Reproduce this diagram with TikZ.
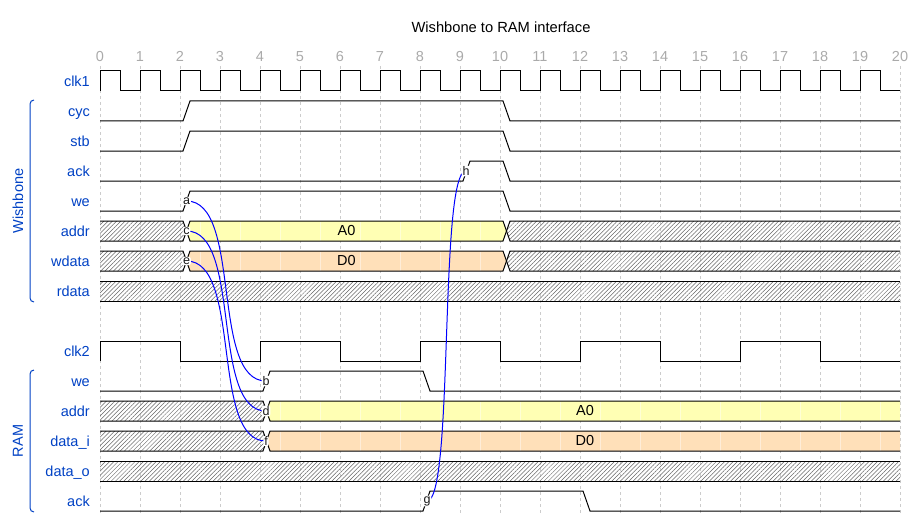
\documentclass[tikz,border=0pt]{standalone}
\usepackage{fontspec}
\setmainfont{Liberation Sans}
\usetikzlibrary{patterns.meta}
\definecolor{wdblue}{HTML}{0041C4}
\definecolor{wdyellow}{HTML}{FFFFB4}
\definecolor{wdorange}{HTML}{FFE0B9}
\definecolor{gridgray}{HTML}{CCCCCC}
\definecolor{tickgray}{HTML}{AAAAAA}
\definecolor{edgeblue}{HTML}{0000FF}
\begin{document}
\begin{tikzpicture}[x=1pt,y=-1pt,
  wave/.style={line width=1pt, black, line join=miter},
  hatch/.style={pattern={Lines[angle=45,distance=3pt,line width=0.5pt]}, pattern color=black!60},
  seam/.style={white, opacity=0.45, line width=0.8pt},
  siglabel/.style={anchor=base east, text=wdblue, font=\fontsize{14.5}{17}\selectfont, inner sep=0pt},
  ticklabel/.style={anchor=base, text=tickgray, font=\fontsize{14.5}{17}\selectfont, inner sep=0pt},
  buslabel/.style={anchor=center, text=black, font=\fontsize{14.5}{17}\selectfont, inner sep=0pt},
  gridline/.style={gridgray, line width=0.6pt, dash pattern=on 3pt off 3pt},
  nodelabel/.style={fill=white, rounded corners=2pt, inner sep=0.8pt, font=\fontsize{12.5}{13}\selectfont, text=black!90},
  edgecurve/.style={edgeblue, line width=1pt},
  bracket/.style={wdblue, line width=1pt, rounded corners=4pt},
  grouplabel/.style={text=wdblue, font=\fontsize{14.5}{17}\selectfont, rotate=90, inner sep=0pt}
]
\useasboundingbox (0,0) rectangle (920,516);

% title and ticks
\node[anchor=base, font=\fontsize{14.7}{17}\selectfont, inner sep=0pt] (title) at (501,33) {Wishbone to RAM interface};
\foreach \i in {0,...,20} {
  \draw[gridline] ({100+40*\i},66) -- ({100+40*\i},516);
  \node[ticklabel] (t\i) at ({100+40*\i},62) {\i};
}

% signal labels
\node[siglabel] (lclk1) at (90,86.7) {clk1};
\node[siglabel] (lcyc) at (90,116.7) {cyc};
\node[siglabel] (lstb) at (90,146.7) {stb};
\node[siglabel] (lack) at (90,176.7) {ack};
\node[siglabel] (lwe) at (90,206.7) {we};
\node[siglabel] (laddr) at (90,236.7) {addr};
\node[siglabel] (lwdata) at (90,266.7) {wdata};
\node[siglabel] (lrdata) at (90,296.7) {rdata};
\node[siglabel] (lclk2) at (90,356.7) {clk2};
\node[siglabel] (lrwe) at (90,386.7) {we};
\node[siglabel] (lraddr) at (90,416.7) {addr};
\node[siglabel] (ldatai) at (90,446.7) {data\_i};
\node[siglabel] (ldatao) at (90,476.7) {data\_o};
\node[siglabel] (lrack) at (90,506.7) {ack};

% groups
\draw[bracket] (34,100) -- (30,100) -- (30,302) -- (34,302);
\node[grouplabel] (gwb) at (18,201) {Wishbone};
\draw[bracket] (34,370) -- (30,370) -- (30,512) -- (34,512);
\node[grouplabel] (gram) at (18,441) {RAM};

% clk1
\draw[wave] (100,91) \foreach \i in {0,...,19} { -- ({100+40*\i},71) -- ({120+40*\i},71) -- ({120+40*\i},91) -- ({140+40*\i},91) };
% cyc, stb, ack, we
\draw[wave] (100,121) -- (183,121) -- (190,101) -- (503,101) -- (510,121) -- (900,121);
\draw[wave] (100,151) -- (183,151) -- (190,131) -- (503,131) -- (510,151) -- (900,151);
\draw[wave] (100,181) -- (463,181) -- (470,161) -- (503,161) -- (510,181) -- (900,181);
\draw[wave] (100,211) -- (183,211) -- (190,191) -- (503,191) -- (510,211) -- (900,211);

% addr (wishbone)
\fill[hatch] (100,221) -- (183,221) -- (186.5,231) -- (183,241) -- (100,241) -- cycle;
\fill[wdyellow] (186.5,231) -- (190,221) -- (503,221) -- (506.5,231) -- (503,241) -- (190,241) -- cycle;
\fill[hatch] (506.5,231) -- (510,221) -- (900,221) -- (900,241) -- (510,241) -- cycle;
\foreach \x in {200,240,...,480} \draw[seam] (\x,221.5) -- (\x,240.5);
\draw[wave] (100,221) -- (183,221) -- (190,241) -- (503,241) -- (510,221) -- (900,221);
\draw[wave] (100,241) -- (183,241) -- (190,221) -- (503,221) -- (510,241) -- (900,241);
\node[buslabel] (wba0) at (346.5,231) {A0};

% wdata
\fill[hatch] (100,251) -- (183,251) -- (186.5,261) -- (183,271) -- (100,271) -- cycle;
\fill[wdorange] (186.5,261) -- (190,251) -- (503,251) -- (506.5,261) -- (503,271) -- (190,271) -- cycle;
\fill[hatch] (506.5,261) -- (510,251) -- (900,251) -- (900,271) -- (510,271) -- cycle;
\foreach \x in {200,240,...,480} \draw[seam] (\x,251.5) -- (\x,270.5);
\draw[wave] (100,251) -- (183,251) -- (190,271) -- (503,271) -- (510,251) -- (900,251);
\draw[wave] (100,271) -- (183,271) -- (190,251) -- (503,251) -- (510,271) -- (900,271);
\node[buslabel] (wbd0) at (346.5,261) {D0};

% rdata
\fill[hatch] (100,281) rectangle (900,301);
\draw[wave] (100,281) -- (900,281) (100,301) -- (900,301);

% clk2
\draw[wave] (100,361) \foreach \i in {0,...,4} { -- ({100+160*\i},341) -- ({180+160*\i},341) -- ({180+160*\i},361) -- ({260+160*\i},361) };

% RAM we
\draw[wave] (100,391) -- (263,391) -- (270,371) -- (423,371) -- (430,391) -- (900,391);

% RAM addr
\fill[hatch] (100,401) -- (263,401) -- (266.5,411) -- (263,421) -- (100,421) -- cycle;
\fill[wdyellow] (266.5,411) -- (270,401) -- (900,401) -- (900,421) -- (270,421) -- cycle;
\foreach \x in {280,320,...,880} \draw[seam] (\x,401.5) -- (\x,420.5);
\draw[wave] (100,401) -- (263,401) -- (270,421) -- (900,421);
\draw[wave] (100,421) -- (263,421) -- (270,401) -- (900,401);
\node[buslabel] (rama0) at (585,411) {A0};

% RAM data_i
\fill[hatch] (100,431) -- (263,431) -- (266.5,441) -- (263,451) -- (100,451) -- cycle;
\fill[wdorange] (266.5,441) -- (270,431) -- (900,431) -- (900,451) -- (270,451) -- cycle;
\foreach \x in {280,320,...,880} \draw[seam] (\x,431.5) -- (\x,450.5);
\draw[wave] (100,431) -- (263,431) -- (270,451) -- (900,451);
\draw[wave] (100,451) -- (263,451) -- (270,431) -- (900,431);
\node[buslabel] (ramd0) at (585,441) {D0};

% data_o
\fill[hatch] (100,461) rectangle (900,481);
\draw[wave] (100,461) -- (900,461) (100,481) -- (900,481);

% RAM ack
\draw[wave] (100,511) -- (423,511) -- (430,491) -- (583,491) -- (590,511) -- (900,511);

% edge anchors
\coordinate (pa) at (186.5,201);
\coordinate (pb) at (266,381);
\coordinate (pc) at (186.5,231);
\coordinate (pd) at (266,411);
\coordinate (pe) at (186.5,261);
\coordinate (pf) at (266,441);
\coordinate (pg) at (427,501);
\coordinate (ph) at (466,171);

\draw[edgecurve] (pa) .. controls +(56,0) and +(-56,0) .. (pb);
\draw[edgecurve] (pc) .. controls +(56,0) and +(-56,0) .. (pd);
\draw[edgecurve] (pe) .. controls +(56,0) and +(-56,0) .. (pf);
\draw[edgecurve] (pg) .. controls +(27.3,0) and +(-27.3,0) .. (ph);

\node[nodelabel] (na) at (pa) {a};
\node[nodelabel] (nb) at (pb) {b};
\node[nodelabel] (nc) at (pc) {c};
\node[nodelabel] (nd) at (pd) {d};
\node[nodelabel] (ne) at (pe) {e};
\node[nodelabel] (nf) at (pf) {f};
\node[nodelabel] (ng) at (pg) {g};
\node[nodelabel] (nh) at (ph) {h};
\end{tikzpicture}
\end{document}
